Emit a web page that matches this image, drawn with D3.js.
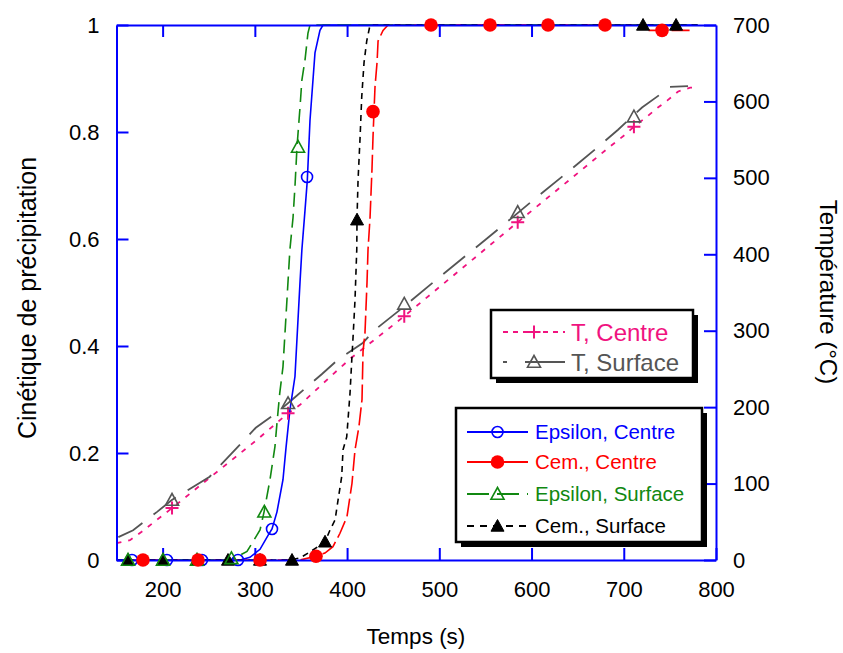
<!DOCTYPE html>
<html><head><meta charset="utf-8">
<script src="https://cdn.jsdelivr.net/npm/d3@7"></script>
<style>body{margin:0;background:#fff;} svg{display:block;font-family:"Liberation Sans",Arial,sans-serif;}</style>
</head><body>
<svg id="c" width="843" height="653"></svg>
<script>
// ---- data ----
const xTicks = [200, 300, 400, 500, 600, 700, 800];
const yTicks = [0, 0.2, 0.4, 0.6, 0.8, 1];
const tTicks = [0, 100, 200, 300, 400, 500, 600, 700];

const epsCentreT = [150, 284, 294.7, 305.6, 314, 318.6, 324, 330.5, 333.8, 338, 343.5, 349, 351, 354.4, 356.9, 359.8, 365.2, 370.6, 373.9, 780];
const epsCentreV = [0, 0, 0.005, 0.02, 0.045, 0.058, 0.09, 0.15, 0.21, 0.28, 0.343, 0.52, 0.58, 0.654, 0.71, 0.822, 0.948, 0.99, 1, 1];
const epsCentreMkT = [166.8, 204.7, 242.7, 281.7, 318.6, 356.6];
const epsCentreMkV = [0, 0, 0, 0, 0.058, 0.716];

const cemCentreT = [150, 349, 366.3, 376, 384.7, 392.3, 399.9, 405.3, 408.6, 412.9, 416.2, 417.3, 419.4, 421.6, 422.7, 424.9, 427, 428.1, 429.2, 430.3, 432.5, 433.6, 439, 444.4, 718, 723, 772];
const cemCentreV = [0, 0, 0.007, 0.013, 0.025, 0.05, 0.081, 0.143, 0.206, 0.25, 0.30, 0.39, 0.424, 0.518, 0.58, 0.64, 0.73, 0.79, 0.838, 0.885, 0.93, 0.97, 0.99, 1, 1, 0.99, 0.99];
const cemCentreMkT = [178.7, 238.4, 305.6, 366.3, 428.1, 491, 555, 617.9, 679.7, 741.5];
const cemCentreMkV = [0, 0, 0, 0.007, 0.838, 1, 1, 1, 1, 0.99];

const epsSurfT = [150, 273, 280.6, 291.5, 305.6, 310, 316.4, 321.8, 324, 327, 330.5, 334.8, 338, 341.4, 343.5, 345.7, 349, 351, 354.4, 357.6, 359.8, 780];
const epsSurfV = [0, 0, 0.006, 0.016, 0.056, 0.09, 0.15, 0.212, 0.256, 0.312, 0.361, 0.486, 0.58, 0.64, 0.698, 0.772, 0.847, 0.897, 0.935, 0.985, 1, 1];
const epsSurfMkT = [162.5, 200.4, 237.3, 274.6, 310.3, 346.8];
const epsSurfMkV = [0, 0, 0, 0.003, 0.09, 0.772];

const cemSurfT = [150, 338, 349, 359.8, 368.5, 376.1, 381.5, 387, 390.2, 394.2, 395.6, 399.6, 403.2, 405.1, 406.5, 408.6, 410.5, 410.8, 411.9, 414.1, 415.9, 418.4, 421.3, 424.9, 780];
const cemSurfV = [0, 0, 0.004, 0.015, 0.025, 0.034, 0.056, 0.075, 0.112, 0.156, 0.206, 0.23, 0.312, 0.374, 0.417, 0.486, 0.58, 0.64, 0.71, 0.79, 0.866, 0.93, 0.97, 1, 1];
const cemSurfMkT = [162.5, 200.4, 237.3, 270.9, 305.6, 340.3, 376.1, 410.8, 720.9, 756.7];
const cemSurfMkV = [0, 0, 0, 0, 0, 0, 0.034, 0.636, 1, 1];

const tCentreT = [150, 164.6, 177.3, 210.2, 302, 336, 349, 382, 404, 439, 462, 585, 661, 683, 701, 711, 725, 737, 747, 759, 772, 774];
const tCentreV = [22, 26, 37, 68, 157, 192, 203, 240, 264, 297, 319, 442, 517, 539, 556, 567, 580, 592, 601, 613, 618, 618];
const tCentreMkT = [210.2, 336, 462, 585, 711];
const tCentreMkV = [68, 192, 319, 442, 567];

const tSurfT = [152, 168, 194, 210, 251, 301, 325, 343.5, 372.5, 390, 417, 430, 457, 500, 550, 600, 652.8, 677.5, 693.8, 719.8, 739.3, 750.1, 769.7];
const tSurfV = [30, 39, 63, 78.5, 109, 173, 194, 213, 243, 262, 284, 301, 327, 370, 419, 469, 521, 546, 563, 592, 609, 619, 620];
const tSurfMkT = [210.2, 336, 462, 585, 711];
const tSurfMkV = [78.5, 205, 335, 455, 580];

// ---- styles ----
const BLUE = "#0000ff", RED = "#ff0000", GREEN = "#118811", BLACK = "#000", PINK = "#f0137f", GREY = "#555555";
const FONT = 22;

const svg = d3.select("#c");
const M = {l: 116.5, r: 716, t: 25, b: 560};
const x = d3.scaleLinear().domain([150, 800]).range([M.l, M.r]);
const y = d3.scaleLinear().domain([0, 1]).range([M.b, M.t]);
const yT = d3.scaleLinear().domain([0, 700]).range([M.b, M.t]);

const zip = (a, b) => a.map((d, i) => [d, b[i]]);

svg.append("clipPath").attr("id", "pc").append("rect")
  .attr("x", M.l).attr("y", M.t - 8).attr("width", M.r - M.l).attr("height", M.b - M.t + 16);

const plot = svg.append("g").attr("clip-path", "url(#pc)");

function drawLine(tArr, vArr, sc, color, dash, w) {
  plot.append("path").datum(zip(tArr, vArr))
    .attr("fill", "none").attr("stroke", color).attr("stroke-width", w || 1.6)
    .attr("stroke-dasharray", dash || null)
    .attr("d", d3.line().x(d => x(d[0])).y(d => sc(d[1])));
}

function marker(g, type, color, cx, cy) {
  if (type === "circleOpen") {
    g.append("circle").attr("cx", cx).attr("cy", cy).attr("r", 5.5)
      .attr("fill", "none").attr("stroke", color).attr("stroke-width", 1.6);
  } else if (type === "circleFill") {
    g.append("circle").attr("cx", cx).attr("cy", cy).attr("r", 6.8).attr("fill", color);
  } else if (type === "triFill" || type === "triOpen") {
    const s = 6.5;
    g.append("path").attr("d", `M${cx},${cy - s}L${cx + s},${cy + s * 0.8}L${cx - s},${cy + s * 0.8}Z`)
      .attr("fill", type === "triFill" ? color : "none")
      .attr("stroke", color).attr("stroke-width", type === "triFill" ? 1 : 1.6);
  } else if (type === "plus") {
    const s = 6.5;
    g.append("path").attr("d", `M${cx - s},${cy}H${cx + s}M${cx},${cy - s}V${cy + s}`)
      .attr("stroke", color).attr("stroke-width", 2).attr("fill", "none");
  }
}
function drawMarkers(tArr, vArr, sc, type, color) {
  const g = svg.append("g");
  tArr.forEach((t, i) => marker(g, type, color, x(t), sc(vArr[i])));
}

drawLine(tCentreT, tCentreV, yT, PINK, "5,7", 1.8);
drawLine(tSurfT, tSurfV, yT, GREY, "28,14", 1.8);
drawLine(epsCentreT, epsCentreV, y, BLUE, null, 1.6);
drawLine(cemCentreT, cemCentreV, y, RED, "18,5", 1.6);
drawLine(epsSurfT, epsSurfV, y, GREEN, "14,7", 1.6);
drawLine(cemSurfT, cemSurfV, y, BLACK, "6,5", 1.6);

const axG = svg.append("g");
function styleAxis(g) {
  g.selectAll("path.domain").attr("stroke", BLUE).attr("stroke-width", 2);
  g.selectAll(".tick line").attr("stroke", BLUE).attr("stroke-width", 2);
  g.selectAll(".tick text").attr("font-size", FONT).attr("fill", "#000")
    .attr("font-family", "'Liberation Sans',Arial,sans-serif");
}
axG.append("g").attr("transform", `translate(${M.l},0)`)
  .call(d3.axisLeft(y).tickValues(yTicks).tickFormat(d3.format("")).tickSize(-12).tickSizeOuter(0).tickPadding(17))
  .call(styleAxis);
axG.append("g").attr("transform", `translate(${M.r},0)`)
  .call(d3.axisRight(yT).tickValues(tTicks).tickSize(-12).tickSizeOuter(0).tickPadding(17))
  .call(styleAxis);
axG.append("g").attr("transform", `translate(0,${M.b})`)
  .call(d3.axisBottom(x).tickValues(xTicks).tickSize(-12).tickSizeOuter(0).tickPadding(21))
  .call(styleAxis);
axG.append("g").attr("transform", `translate(0,${M.t})`)
  .call(d3.axisTop(x).tickValues(xTicks.slice(0, -1)).tickFormat("").tickSize(-12).tickSizeOuter(0))
  .call(styleAxis);

drawMarkers(tCentreMkT, tCentreMkV, yT, "plus", PINK);
drawMarkers(tSurfMkT, tSurfMkV, yT, "triOpen", GREY);
drawMarkers(epsCentreMkT, epsCentreMkV, y, "circleOpen", BLUE);
drawMarkers(cemSurfMkT, cemSurfMkV, y, "triFill", BLACK);
drawMarkers(epsSurfMkT, epsSurfMkV, y, "triOpen", GREEN);
drawMarkers(cemCentreMkT, cemCentreMkV, y, "circleFill", RED);

svg.append("text").attr("transform", "translate(36,298) rotate(-90)")
  .attr("text-anchor", "middle").attr("font-size", 25).text("Cinétique de précipitation");
svg.append("text").attr("transform", "translate(820,292) rotate(90)")
  .attr("text-anchor", "middle").attr("font-size", 24).text("Température (°C)");
svg.append("text").attr("x", 416).attr("y", 644)
  .attr("text-anchor", "middle").attr("font-size", 22.5).text("Temps (s)");

function legend(box, entries, fs, lx0, lx1, tx) {
  const g = svg.append("g");
  g.append("rect").attr("x", box.x + 5).attr("y", box.y + 5).attr("width", box.w).attr("height", box.h).attr("fill", "#000");
  g.append("rect").attr("x", box.x).attr("y", box.y).attr("width", box.w).attr("height", box.h)
    .attr("fill", "#fff").attr("stroke", "#000").attr("stroke-width", 2.5);
  entries.forEach(e => {
    g.append("line").attr("x1", lx0).attr("x2", lx1).attr("y1", e.y).attr("y2", e.y)
      .attr("stroke", e.color).attr("stroke-width", 1.8).attr("stroke-dasharray", e.dash || null);
    marker(g, e.type, e.color, (lx0 + lx1) / 2, e.y);
    g.append("text").attr("x", tx).attr("y", e.y).attr("dy", "0.36em")
      .attr("font-size", fs).attr("fill", e.color).text(e.label);
  });
}
legend({x: 491, y: 310, w: 202, h: 68}, [
  {y: 332, color: PINK, dash: "5,5", type: "plus", label: "T, Centre"},
  {y: 362, color: GREY, dash: "4,18,40", type: "triOpen", label: "T, Surface"}
], 24, 503, 565, 571);
legend({x: 456, y: 408, w: 246, h: 134}, [
  {y: 432, color: BLUE, dash: null, type: "circleOpen", label: "Epsilon, Centre"},
  {y: 462, color: RED, dash: null, type: "circleFill", label: "Cem., Centre"},
  {y: 494, color: GREEN, dash: "22,8", type: "triOpen", label: "Epsilon, Surface"},
  {y: 526, color: BLACK, dash: "7,6", type: "triFill", label: "Cem., Surface"}
], 20.5, 467, 528, 535);
</script>
</body></html>
